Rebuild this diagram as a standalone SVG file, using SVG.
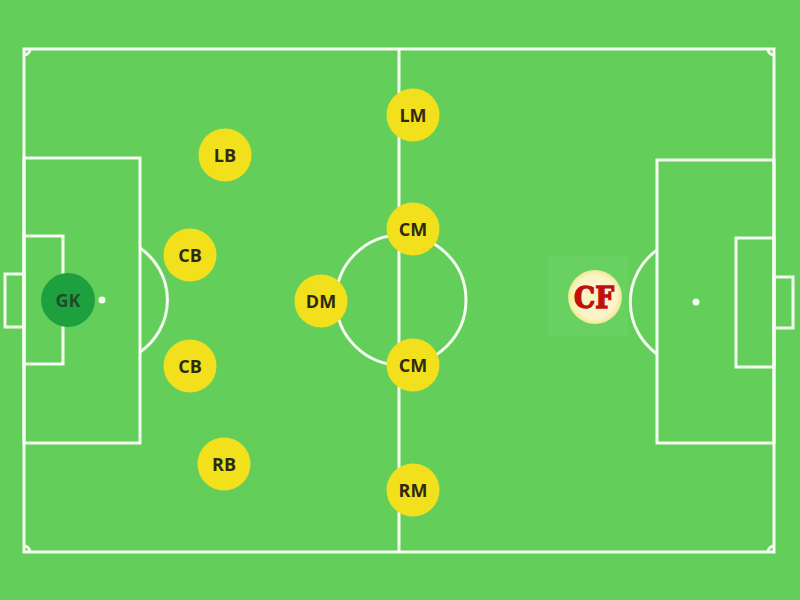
<svg xmlns="http://www.w3.org/2000/svg" width="800" height="600" viewBox="0 0 800 600">
<defs>
<style>
.ln{fill:none;stroke:#F4FBEF;stroke-width:3}
.pl{fill:#F2E01C}
.lbl{font-family:"Open Sans","Noto Sans",sans-serif;font-weight:bold;font-size:18px;fill:#2E2A12;text-anchor:middle;dominant-baseline:central}
</style>
<radialGradient id="cfg" cx="50%" cy="50%" r="50%">
<stop offset="0.8" stop-color="#FCF3C8"/>
<stop offset="1" stop-color="#EEEA90"/>
</radialGradient>
</defs>
<rect width="800" height="600" fill="#63CF5A"/>
<g id="pitch">
<rect class="ln" x="24" y="49" width="750" height="503"/>
<line class="ln" x1="399" y1="49" x2="399" y2="552"/>
<circle class="ln" cx="401" cy="300" r="65"/>
<rect class="ln" x="24" y="158" width="116" height="285"/>
<rect class="ln" x="24" y="236" width="39" height="128"/>
<rect class="ln" x="5" y="274" width="19" height="53"/>
<path class="ln" d="M140 248 A63 63 0 0 1 140 352"/>
<circle cx="102" cy="300" r="3.5" fill="#F4FBEF"/>
<rect class="ln" x="657" y="160" width="117" height="283"/>
<rect class="ln" x="736" y="238" width="38" height="129"/>
<rect class="ln" x="774" y="277" width="19" height="51"/>
<path class="ln" d="M657 250 A64 64 0 0 0 657 354"/>
<circle cx="696" cy="302" r="3.5" fill="#F4FBEF"/>
<path class="ln" stroke-width="2" d="M24 55 A6 6 0 0 0 30 49 M768 49 A6 6 0 0 0 774 55 M24 546 A6 6 0 0 1 30 552 M768 552 A6 6 0 0 1 774 546"/>
</g>
<g id="connectors"></g>
<g id="GK"><circle cx="68" cy="300" r="27" fill="#1FA03F"/><text class="lbl" x="68" y="300" style="fill:#1B4E26">GK</text></g>
<g id="LB"><circle class="pl" cx="225" cy="155" r="26.5"/><text class="lbl" x="225" y="155">LB</text></g>
<g id="CB1"><circle class="pl" cx="190" cy="255" r="26.5"/><text class="lbl" x="190" y="255">CB</text></g>
<g id="CB2"><circle class="pl" cx="190" cy="366" r="26.5"/><text class="lbl" x="190" y="366">CB</text></g>
<g id="RB"><circle class="pl" cx="224" cy="464" r="26.5"/><text class="lbl" x="224" y="464">RB</text></g>
<g id="DM"><circle class="pl" cx="321" cy="301" r="26.5"/><text class="lbl" x="321" y="301">DM</text></g>
<g id="CM1"><circle class="pl" cx="413" cy="229" r="26.5"/><text class="lbl" x="413" y="229">CM</text></g>
<g id="CM2"><circle class="pl" cx="413" cy="365" r="26.5"/><text class="lbl" x="413" y="365">CM</text></g>
<g id="LM"><circle class="pl" cx="413" cy="115" r="26.5"/><text class="lbl" x="413" y="115">LM</text></g>
<g id="RM"><circle class="pl" cx="413" cy="490" r="26.5"/><text class="lbl" x="413" y="490">RM</text></g>
<g id="CF"><rect x="548" y="256" width="80" height="80" fill="#68D160"/><circle cx="595" cy="297" r="27" fill="url(#cfg)"/><text x="594" y="308" font-family="'DejaVu Serif',serif" font-weight="bold" font-size="30" fill="#C0100C" text-anchor="middle" stroke="#C0100C" stroke-width="1.5" textLength="40" lengthAdjust="spacingAndGlyphs">CF</text></g>
</svg>
